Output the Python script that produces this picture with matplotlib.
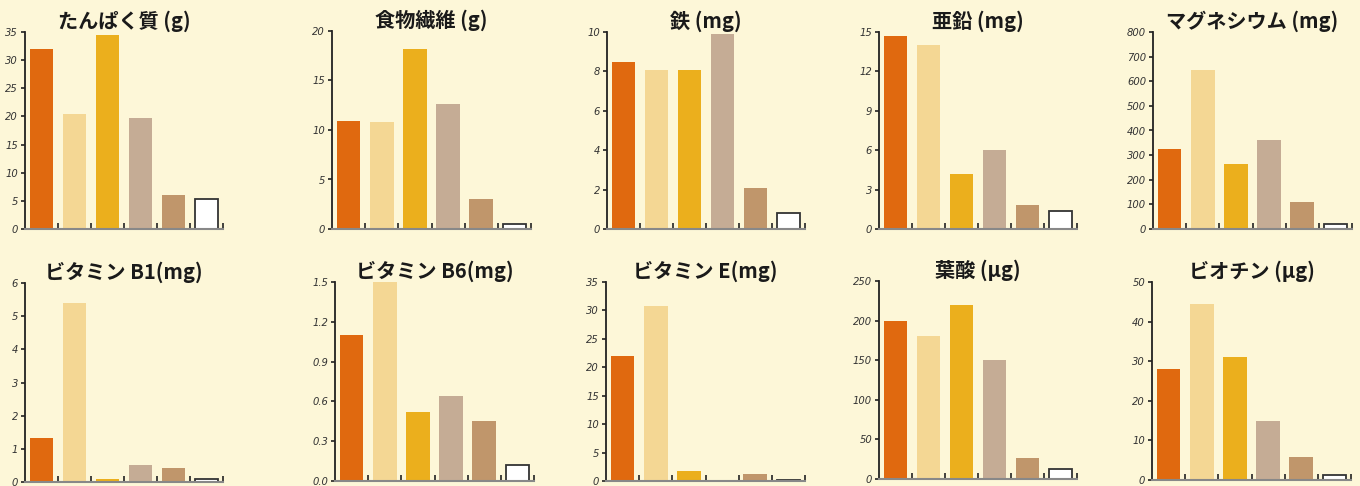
import matplotlib
matplotlib.use("Agg")
import matplotlib.pyplot as plt

plt.rcParams['font.family'] = ['Noto Sans CJK JP', 'DejaVu Sans']

titles = ["たんぱく質 (g)", "食物繊維 (g)", "鉄 (mg)", "亜鉛 (mg)", "マグネシウム (mg)",
          "ビタミン B1(mg)", "ビタミン B6(mg)", "ビタミン E(mg)", "葉酸 (μg)", "ビオチン (μg)"]

protein = [32, 20.4, 34.4, 19.7, 6.1, 5.3]
fiber = [10.9, 10.8, 18.2, 12.6, 3.0, 0.5]
iron = [8.5, 8.05, 8.05, 9.9, 2.1, 0.8]
zinc = [14.7, 14.0, 4.15, 6.0, 1.8, 1.4]
magnesium = [323, 645, 262, 363, 109, 22]
vit_b1 = [1.32, 5.4, 0.08, 0.5, 0.41, 0.08]
vit_b6 = [1.10, 1.50, 0.52, 0.64, 0.45, 0.12]
vit_e = [22.0, 30.8, 1.7, 0.1, 1.2, 0.1]
folate = [200, 180, 220, 150, 27, 12]
biotin = [28, 44.4, 31, 14.9, 5.8, 1.3]

series = [protein, fiber, iron, zinc, magnesium, vit_b1, vit_b6, vit_e, folate, biotin]
y_max = [35, 20, 10, 15, 800, 6, 1.5, 35, 250, 50]
y_step = [5, 5, 2, 3, 100, 1, 0.3, 5, 50, 10]

bar_colors = ["#E0690F", "#F4D794", "#EBAF1D", "#C5AC95", "#C0966B", "#FFFFFF"]
bg = "#FDF7D8"

W, H = 1360, 486
# pixel boxes (left, right, top, bottom)
boxes = [(25, 223, 32, 229), (332, 531, 31, 229), (607, 805, 32, 229), (879, 1077, 32, 229), (1153, 1352, 32, 229),
         (25, 223, 283, 482), (335, 534, 282, 481), (606, 805, 282, 481), (879, 1077, 281, 479), (1152, 1351, 282, 480)]

fig = plt.figure(figsize=(W / 100, H / 100), dpi=100, facecolor=bg)

for i, (vals, title) in enumerate(zip(series, titles)):
    l, r, t, b = boxes[i]
    ax = fig.add_axes([l / W, 1 - b / H, (r - l) / W, (b - t) / H])
    ax.set_facecolor(bg)
    for j, v in enumerate(vals):
        if j == len(vals) - 1:
            ax.bar(j, v, width=0.71, color="white", edgecolor="#333333", linewidth=1.3)
        else:
            ax.bar(j, v, width=0.71, color=bar_colors[j], linewidth=0)
    ax.set_xlim(-0.5, len(vals) - 0.5)
    ax.set_ylim(0, y_max[i])
    n = int(round(y_max[i] / y_step[i]))
    ticks = [k * y_step[i] for k in range(n + 1)]
    ax.set_yticks(ticks)
    if i == 6:
        ax.set_yticklabels([f"{tk:.1f}" for tk in ticks])
    else:
        ax.set_yticklabels([f"{tk:g}" for tk in ticks])
    ax.set_xticks([k + 0.5 for k in range(len(vals))])
    ax.set_xticklabels([])
    ax.tick_params(axis='x', direction='in', length=4, width=1.2, color="#222222")
    ax.tick_params(axis='y', direction='out', length=3, width=1.2, color="#222222",
                   labelsize=7.2, labelcolor="#333333", pad=2)
    for lab in ax.get_yticklabels():
        lab.set_family(['DejaVu Sans'])
        lab.set_style('italic')
    for s in ['top', 'right']:
        ax.spines[s].set_visible(False)
    ax.spines['left'].set_color("#222222")
    ax.spines['left'].set_linewidth(1.3)
    ax.spines['bottom'].set_color("#888888")
    ax.spines['bottom'].set_linewidth(1.5)
    ax.set_title(title, fontsize=14.5, fontweight='bold', color="#1a1a1a", pad=3)

fig.savefig("out.png", dpi=100, facecolor=bg)
